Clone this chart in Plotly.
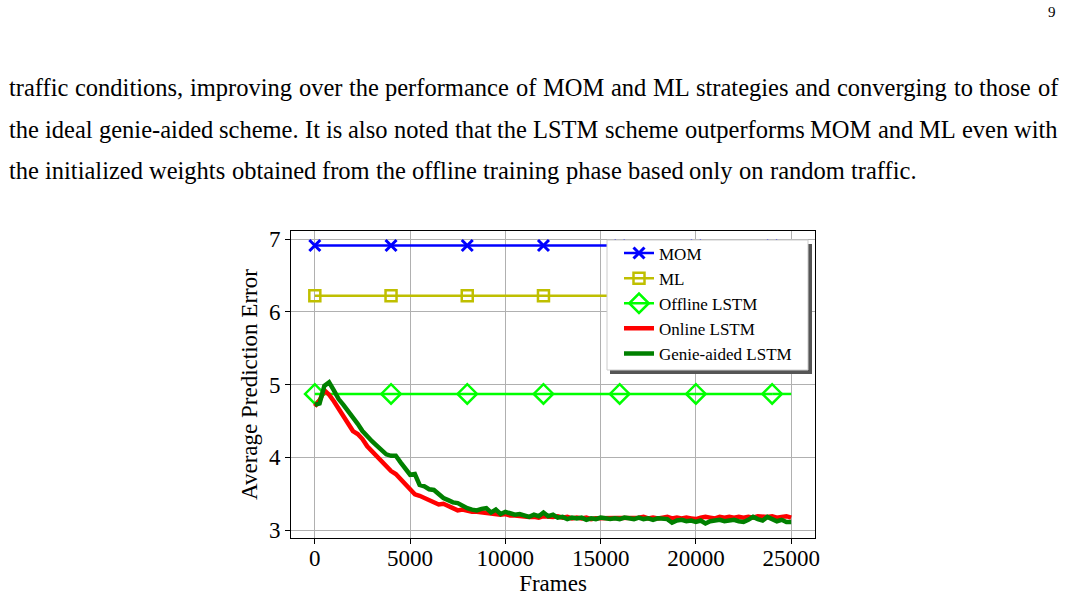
import plotly.graph_objects as go

# ---------------- data ----------------
frames = list(range(0, 25001, 250))
online_lstm = [
    4.70, 4.78, 4.92, 4.86, 4.77, 4.66, 4.56, 4.45, 4.36, 4.32,
    4.25, 4.15, 4.08, 4.02, 3.94, 3.87, 3.81, 3.77, 3.70, 3.62,
    3.55, 3.49, 3.47, 3.44, 3.40, 3.37, 3.35, 3.36, 3.33, 3.30,
    3.27, 3.28, 3.26, 3.25, 3.25, 3.24, 3.23, 3.23, 3.22, 3.21,
    3.22, 3.20, 3.20, 3.19, 3.19, 3.18, 3.18, 3.17, 3.19, 3.18,
    3.18, 3.19, 3.17, 3.18, 3.16, 3.17, 3.16, 3.17, 3.15, 3.16,
    3.16, 3.17, 3.16, 3.16, 3.17, 3.16, 3.17, 3.16, 3.17, 3.18,
    3.16, 3.17, 3.16, 3.17, 3.18, 3.16, 3.17, 3.16, 3.17, 3.16,
    3.15, 3.17, 3.18, 3.17, 3.16, 3.18, 3.17, 3.18, 3.17, 3.18,
    3.17, 3.18, 3.17, 3.19, 3.18, 3.18, 3.19, 3.17, 3.18, 3.19,
    3.17,
]
genie_lstm = [
    4.72, 4.74, 4.98, 5.03, 4.92, 4.80, 4.72, 4.64, 4.55, 4.46,
    4.36, 4.28, 4.22, 4.16, 4.10, 4.04, 4.02, 4.02, 3.93, 3.85,
    3.76, 3.77, 3.62, 3.60, 3.56, 3.55, 3.50, 3.44, 3.41, 3.38,
    3.37, 3.33, 3.30, 3.28, 3.27, 3.29, 3.30, 3.24, 3.28, 3.22,
    3.25, 3.23, 3.21, 3.22, 3.20, 3.18, 3.21, 3.19, 3.24, 3.19,
    3.21, 3.17, 3.18, 3.15, 3.17, 3.16, 3.17, 3.14, 3.16, 3.15,
    3.17, 3.16, 3.15, 3.16, 3.15, 3.17, 3.16, 3.15, 3.17, 3.15,
    3.16, 3.14, 3.16, 3.15, 3.15, 3.10, 3.13, 3.14, 3.12, 3.13,
    3.11, 3.13, 3.09, 3.12, 3.13, 3.14, 3.12, 3.13, 3.14, 3.12,
    3.11, 3.14, 3.18, 3.15, 3.13, 3.18, 3.15, 3.12, 3.14, 3.11,
    3.11,
]
marker_frames = [0, 4000, 8000, 12000, 16000, 20000, 24000]
line_end_frames = [24000, 25000]
mom_value = 6.91
ml_value = 6.22
offline_value = 4.87

x_ticks = [0, 5000, 10000, 15000, 20000, 25000]
y_ticks = [3, 4, 5, 6, 7]

page_lines = [
    "traffic conditions, improving over the performance of MOM and ML strategies and converging to those of",
    "the ideal genie-aided scheme. It is also noted that the LSTM scheme outperforms MOM and ML even with",
    "the initialized weights obtained from the offline training phase based only on random traffic.",
]
page_number = "9"

# ---------------- layout geometry ----------------
W, H = 1065, 600
PL, PR, PT, PB = 291, 815, 231, 538
FONT = "Liberation Serif"


def px_x(px):
    return (px - PL) / (PR - PL)


def px_y(py):
    return (PB - py) / (PB - PT)


# Times metrics (per 1000 em) to lay out justified text
TIMES = {
    ' ': 250, 'a': 444, 'b': 500, 'c': 444, 'd': 500, 'e': 444, 'f': 333, 'g': 500,
    'h': 500, 'i': 278, 'j': 278, 'k': 500, 'l': 278, 'm': 778, 'n': 500, 'o': 500,
    'p': 500, 'q': 500, 'r': 333, 's': 389, 't': 278, 'u': 500, 'v': 500, 'w': 722,
    'x': 500, 'y': 500, 'z': 444, ',': 250, '.': 250, '-': 333, 'M': 889, 'O': 722,
    'L': 611, 'S': 556, 'T': 611, 'I': 333,
}


def text_w(s, size):
    return sum(TIMES.get(c, 500) for c in s) * size / 1000.0


fig = go.Figure()

blue = "#0000ff"
olive = "#bfbf00"
lime = "#00ff00"
red = "#ff0000"
green = "#008000"

# MOM
fig.add_trace(go.Scatter(
    x=marker_frames, y=[mom_value] * len(marker_frames), mode="lines+markers", name="MOM",
    line=dict(color=blue, width=2.5),
    marker=dict(symbol="x-thin-open", size=11, color=blue, line=dict(width=3, color=blue))))
fig.add_trace(go.Scatter(
    x=line_end_frames, y=[mom_value] * 2, mode="lines", showlegend=False,
    line=dict(color=blue, width=2.5), hoverinfo="skip"))
# ML
fig.add_trace(go.Scatter(
    x=marker_frames, y=[ml_value] * len(marker_frames), mode="lines+markers", name="ML",
    line=dict(color=olive, width=2.5),
    marker=dict(symbol="square-open", size=11, color=olive, line=dict(width=2.5, color=olive))))
fig.add_trace(go.Scatter(
    x=line_end_frames, y=[ml_value] * 2, mode="lines", showlegend=False,
    line=dict(color=olive, width=2.5), hoverinfo="skip"))
# Offline
fig.add_trace(go.Scatter(
    x=marker_frames, y=[offline_value] * len(marker_frames), mode="lines+markers", name="Offline LSTM",
    line=dict(color=lime, width=2.5),
    marker=dict(symbol="diamond-open", size=15, color=lime, line=dict(width=2.5, color=lime))))
fig.add_trace(go.Scatter(
    x=line_end_frames, y=[offline_value] * 2, mode="lines", showlegend=False,
    line=dict(color=lime, width=2.5), hoverinfo="skip"))
# Online
fig.add_trace(go.Scatter(
    x=frames, y=online_lstm, mode="lines", name="Online LSTM",
    line=dict(color=red, width=4.5)))
# Genie
fig.add_trace(go.Scatter(
    x=frames, y=genie_lstm, mode="lines", name="Genie-aided LSTM",
    line=dict(color=green, width=4.5)))

axis_common = dict(
    showgrid=True, gridcolor="#b0b0b0", gridwidth=1,
    showline=True, linecolor="black", linewidth=1, mirror=True,
    ticks="outside", ticklen=5, tickwidth=1, tickcolor="black",
    zeroline=False, automargin=False,
    tickfont=dict(family=FONT, size=23, color="black"),
)

fig.update_xaxes(
    range=[-1250, 26250], tickmode="array", tickvals=x_ticks,
    ticktext=[str(v) for v in x_ticks], ticklabelstandoff=-6,
    title=dict(text="Frames", font=dict(family=FONT, size=23, color="black"), standoff=5),
    **axis_common)
fig.update_yaxes(
    range=[2.89, 7.11], tickmode="array", tickvals=y_ticks,
    ticktext=[str(v) for v in y_ticks],
    title=dict(text="Average Prediction Error", font=dict(family=FONT, size=23, color="black"), standoff=4),
    **axis_common)

annotations = []
# page text, justified
size = 24.5
left, right = 8, 1057
line_centers = [87.5, 129, 170.5]
for i, (line, cy) in enumerate(zip(page_lines, line_centers)):
    words = line.split(" ")
    widths = [text_w(w, size) for w in words]
    if i < len(page_lines) - 1:
        gap = (right - left - sum(widths)) / (len(words) - 1)
    else:
        gap = text_w(" ", size)
    xpos = left
    for w, wd in zip(words, widths):
        annotations.append(dict(
            x=px_x(xpos), y=px_y(cy), xref="paper", yref="paper",
            text=w, showarrow=False, xanchor="left", yanchor="middle",
            font=dict(family=FONT, size=size, color="black"), borderpad=0))
        xpos += wd + gap

annotations.append(dict(
    x=px_x(1057), y=px_y(12), xref="paper", yref="paper", text=page_number,
    showarrow=False, xanchor="right", yanchor="middle",
    font=dict(family=FONT, size=15, color="black"), borderpad=0))

# legend box with shadow (drawn as shapes; legend itself is transparent)
shapes = [
    dict(type="rect", xref="paper", yref="paper",
         x0=px_x(610), x1=px_x(812), y0=px_y(374), y1=px_y(244),
         fillcolor="#555555", line=dict(width=0), layer="above"),
    dict(type="rect", xref="paper", yref="paper",
         x0=px_x(607), x1=px_x(808), y0=px_y(370), y1=px_y(240),
         fillcolor="white", line=dict(width=1, color="#cccccc"), layer="above"),
]

fig.update_layout(
    width=W, height=H,
    margin=dict(l=PL, r=W - PR, t=PT, b=H - PB),
    paper_bgcolor="white", plot_bgcolor="white",
    showlegend=True,
    legend=dict(
        x=px_x(619), y=px_y(235.5), xanchor="left", yanchor="top",
        bgcolor="rgba(0,0,0,0)", borderwidth=0,
        font=dict(family=FONT, size=17, color="black"),
        itemwidth=30,
    ),
    annotations=annotations,
    shapes=shapes,
)

fig.write_html("out.html")
